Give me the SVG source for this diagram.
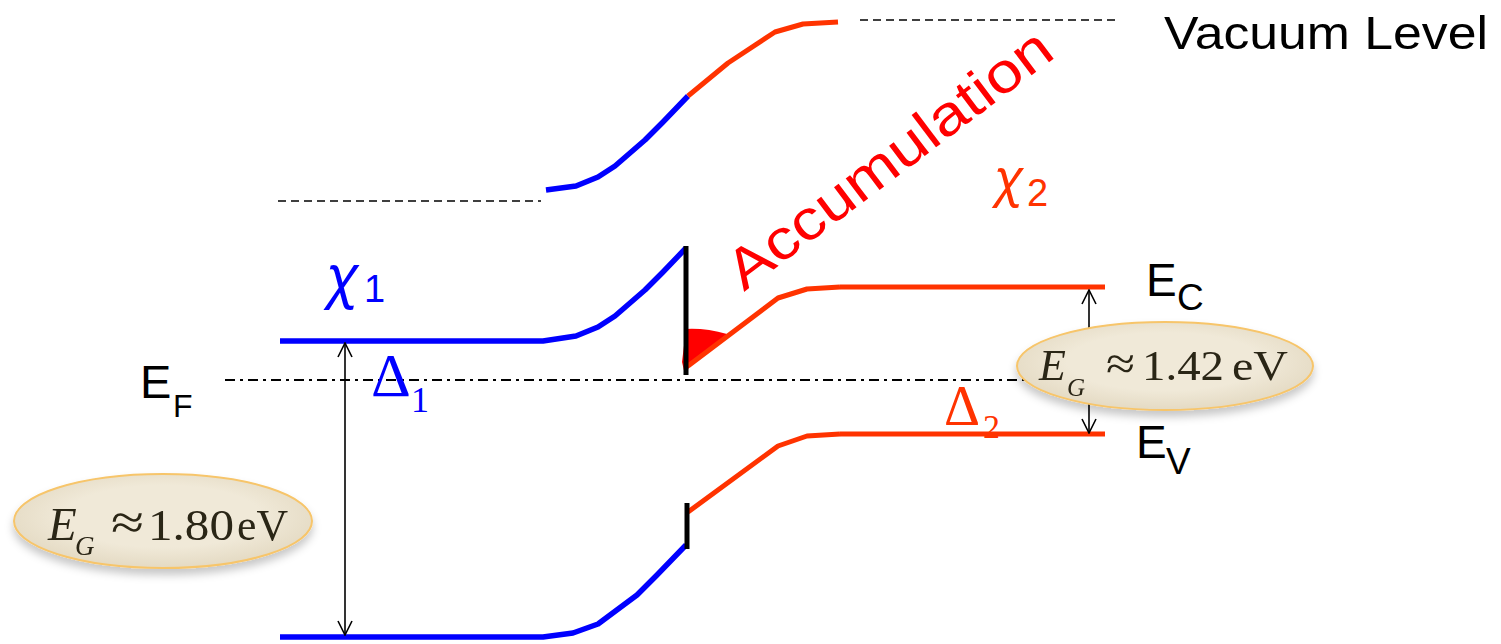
<svg xmlns="http://www.w3.org/2000/svg" width="1501" height="644" viewBox="0 0 1501 644">
<defs>
<style>
.blue{fill:none;stroke:#0000ff;stroke-width:5.5;stroke-linejoin:round}
.orange{fill:none;stroke:#ff3300;stroke-width:5;stroke-linejoin:round}
.bar{stroke:#000;stroke-width:5}
.vac{stroke:#000;stroke-width:1.6;stroke-dasharray:8 5}
.fermi{stroke:#000;stroke-width:2;stroke-dasharray:10 5 3 5}
.arr{stroke:#000;stroke-width:1.6;fill:none}
.sans{font-family:"Liberation Sans",Arial,sans-serif}
.serif{font-family:"Liberation Serif","Times New Roman",serif}
.eg{fill:#2b2517}
.ell{fill:#eee7d5;stroke:#f7c56a;stroke-width:2}
</style>
<radialGradient id="eg" cx="50%" cy="45%" r="55%">
<stop offset="0.6" stop-color="#f0e9d8"/>
<stop offset="1" stop-color="#e4dac3"/>
</radialGradient>
<marker id="ah" viewBox="0 0 16 16" refX="15" refY="8" markerWidth="16" markerHeight="16" markerUnits="userSpaceOnUse" orient="auto-start-reverse">
<path d="M1,1 L15,8 L1,15" fill="none" stroke="#000" stroke-width="1.6"/>
</marker>
<filter id="sh" x="-20%" y="-30%" width="140%" height="170%">
<feGaussianBlur in="SourceAlpha" stdDeviation="4"/>
<feOffset dx="0" dy="6" result="b"/>
<feFlood flood-color="#000" flood-opacity="0.22"/>
<feComposite in2="b" operator="in"/>
<feMerge><feMergeNode/><feMergeNode in="SourceGraphic"/></feMerge>
</filter>
</defs>

<g id="vacuum-level">
<line class="vac" x1="278" y1="201" x2="541" y2="201"/>
<line class="vac" x1="860" y1="20" x2="1120" y2="20"/>
<path class="blue" d="M546,190 L576,186 L598,177 L615,166 L645,140 L663,122 L688,96"/>
<path class="orange" d="M688,96 L728,63 L775,32 L803,24 L838,22"/>
<text class="sans" x="1164" y="49" font-size="46" textLength="324" lengthAdjust="spacingAndGlyphs">Vacuum Level</text>
</g>

<g id="fermi-level">
<line class="fermi" x1="225" y1="380" x2="1100" y2="380"/>
<text class="sans" x="140" y="398" font-size="47">E</text>
<text class="sans" x="173" y="417" font-size="32">F</text>
</g>

<g id="accumulation">
<path d="M686,329 Q706,328 727,334 L690,366 L685,375 L682,362 Z" fill="#ff0000"/>
<text class="sans" x="744" y="292" font-size="56" fill="#ff0000" transform="rotate(-37 744 292)" textLength="392" lengthAdjust="spacingAndGlyphs">Accumulation</text>
</g>

<g id="conduction-band">
<path class="blue" d="M280,341 L543,341 L576,336 L598,327 L615,316 L645,290 L663,272 L686,248"/>
<path class="orange" d="M688,366 L778,298 L807,289 L840,287"/>
<line class="orange" x1="840" y1="287" x2="1105" y2="287"/>
<line class="bar" x1="686" y1="246" x2="686" y2="375"/>
</g>

<g id="valence-band">
<path class="blue" d="M280,637 L543,637 L573,633 L598,624 L637,595 L657,575 L686,545"/>
<path class="orange" d="M688,512 L778,446 L807,436 L840,434"/>
<line class="orange" x1="840" y1="434" x2="1105" y2="434"/>
<line class="bar" x1="687" y1="503" x2="687" y2="549"/>
</g>

<g id="connectors">
<line class="arr" x1="345" y1="343" x2="345" y2="635" marker-start="url(#ah)" marker-end="url(#ah)"/>
<line class="arr" x1="1089" y1="290" x2="1089" y2="433" marker-start="url(#ah)" marker-end="url(#ah)"/>
</g>

<g id="chi1">
<text x="326" y="296" font-size="58" fill="#0000ff" font-family="'Noto Sans',sans-serif" font-style="italic">χ</text>
<text class="sans" x="364" y="302" font-size="38" fill="#0000ff">1</text>
</g>
<g id="chi2">
<text x="994" y="196" font-size="52" fill="#ff3300" font-family="'Noto Sans',sans-serif" font-style="italic">χ</text>
<text class="sans" x="1027" y="206" font-size="38" fill="#ff3300">2</text>
</g>
<g id="delta1">
<text class="serif" x="371" y="396" font-size="62" fill="#0000ff">Δ</text>
<text class="serif" x="411" y="412" font-size="36" fill="#0000ff">1</text>
</g>
<g id="delta2">
<text class="serif" x="944" y="425" font-size="56" fill="#ff3300">Δ</text>
<text class="serif" x="983" y="438" font-size="34" fill="#ff3300">2</text>
</g>

<g id="ec-label">
<text class="sans" x="1146" y="296" font-size="46">E</text>
<text class="sans" x="1177" y="310" font-size="37">C</text>
</g>
<g id="ev-label">
<text class="sans" x="1136" y="458" font-size="46">E</text>
<text class="sans" x="1166" y="474" font-size="37">V</text>
</g>

<g id="eg1" filter="url(#sh)">
<ellipse class="ell" cx="163" cy="521" rx="149" ry="47" style="fill:url(#eg)"/>
<text class="serif eg" x="48" y="540" font-size="47" font-style="italic">E</text>
<text class="serif eg" x="75" y="555" font-size="27" font-style="italic">G</text>
<text class="serif eg" x="111" y="539" font-size="50" textLength="33" lengthAdjust="spacingAndGlyphs">≈</text>
<text class="serif eg" x="148" y="540" font-size="45" textLength="86" lengthAdjust="spacingAndGlyphs">1.80</text>
<text class="serif eg" x="237" y="540" font-size="45" textLength="51" lengthAdjust="spacingAndGlyphs">eV</text>
</g>
<g id="eg2" filter="url(#sh)">
<ellipse class="ell" cx="1165" cy="366" rx="148" ry="44" style="fill:url(#eg)"/>
<text class="serif eg" x="1039" y="380" font-size="44" font-style="italic">E</text>
<text class="serif eg" x="1067" y="396" font-size="25" font-style="italic">G</text>
<text class="serif eg" x="1106" y="379" font-size="46" textLength="29" lengthAdjust="spacingAndGlyphs">≈</text>
<text class="serif eg" x="1142" y="380" font-size="42" textLength="82" lengthAdjust="spacingAndGlyphs">1.42</text>
<text class="serif eg" x="1232" y="380" font-size="42" textLength="56" lengthAdjust="spacingAndGlyphs">eV</text>
</g>
</svg>
